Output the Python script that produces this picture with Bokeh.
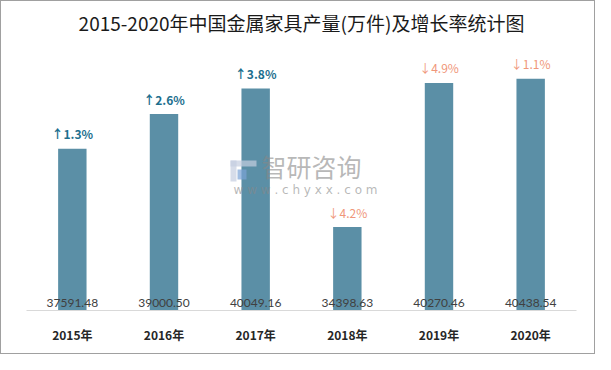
from bokeh.plotting import figure
from bokeh.models import ColumnDataSource, Range1d, Label, BoxAnnotation
from bokeh.core.properties import value
from bokeh.embed import file_html
from bokeh.resources import INLINE

years = ["2015年", "2016年", "2017年", "2018年", "2019年", "2020年"]
output = [37591.48, 39000.50, 40049.16, 34398.63, 40270.46, 40438.54]
growth = [1.3, 2.6, 3.8, -4.2, -4.9, -1.1]
y_start, y_end = 31000, 42000
title = "2015-2020年中国金属家具产量(万件)及增长率统计图"

val_text = ["%.2f" % v for v in output]
g_text = [("↑" if g > 0 else "↓") + "%.1f%%" % abs(g) for g in growth]

src = ColumnDataSource(dict(x=years, top=output, val=val_text,
                            base=[y_start] * len(years)))
up_idx = [i for i in range(len(years)) if growth[i] > 0]
dn_idx = [i for i in range(len(years)) if growth[i] < 0]
up = ColumnDataSource(dict(x=[years[i] for i in up_idx],
                           y=[output[i] for i in up_idx],
                           t=[g_text[i] for i in up_idx]))
dn = ColumnDataSource(dict(x=[years[i] for i in dn_idx],
                           y=[output[i] for i in dn_idx],
                           t=[g_text[i] for i in dn_idx]))

W, H = 595, 354
p = figure(x_range=years, y_range=Range1d(y_start, y_end), width=W, height=H,
           output_backend="svg", toolbar_location=None,
           min_border_left=25, min_border_right=20, min_border_top=39,
           min_border_bottom=45)
p.outline_line_color = None
p.styles = {"border": "1px solid #a0a0a0", "box-sizing": "border-box"}

p.title.text = title
p.title.align = "center"
p.title.text_font = "Noto Sans CJK SC"
p.title.text_font_size = "19px"
p.title.text_font_style = "normal"
p.title.text_color = "#1a1a1a"
p.title.offset = -4

p.vbar(x="x", top="top", bottom="base", width=0.31, source=src,
       fill_color="#5b8fa6", line_color=None)

p.text(x="x", y="base", text="val", source=src, text_align="center",
       text_baseline="middle", y_offset=-8, text_font=value("Lato"),
       text_font_size="12px", text_color="#404040")

p.text(x="x", y="y", text="t", source=up, text_align="center",
       text_baseline="middle", y_offset=-15, text_font=value("Noto Sans CJK SC"),
       text_font_size="12px", text_font_style="bold", text_color="#1d6f8e")
p.text(x="x", y="y", text="t", source=dn, text_align="center",
       text_baseline="middle", y_offset=-15, text_font=value("Noto Sans CJK SC"),
       text_font_size="12px", text_color="#f0977a")

# watermark
for (l, r, b, t, c) in [(204, 230, 144, 150, "#c5cde0"),
                        (204, 210, 129, 150, "#c5cde0"),
                        (211, 220, 131, 141, "#7aa3d6")]:
    p.add_layout(BoxAnnotation(left=l, right=r, bottom=b, top=t,
                               left_units="screen", right_units="screen",
                               bottom_units="screen", top_units="screen",
                               fill_color=c, fill_alpha=0.7, line_color=None))
p.add_layout(Label(x=285, y=145, x_units="screen", y_units="screen",
                   text="智研咨询", text_font="Noto Sans CJK SC",
                   text_font_size="25px", text_color="#888888", text_alpha=0.6,
                   text_align="center", text_baseline="middle"))
p.add_layout(Label(x=279, y=121, x_units="screen", y_units="screen",
                   text="w w w . c h y x x . c o m", text_font="DejaVu Sans",
                   text_font_size="12px", text_color="#888888", text_alpha=0.6,
                   text_align="center", text_baseline="middle"))

p.yaxis.visible = False
p.xgrid.grid_line_color = None
p.ygrid.grid_line_color = None
p.xaxis.axis_line_color = "#d9d9d9"
p.xaxis.major_tick_line_color = None
p.xaxis.minor_tick_line_color = None
p.xaxis.major_label_text_font = "Noto Sans CJK SC"
p.xaxis.major_label_text_font_style = "bold"
p.xaxis.major_label_text_font_size = "12px"
p.xaxis.major_label_text_color = "#262626"
p.xaxis.major_label_standoff = 9
p.x_range.range_padding = 0

open("out.html", "w").write(file_html(p, INLINE))
